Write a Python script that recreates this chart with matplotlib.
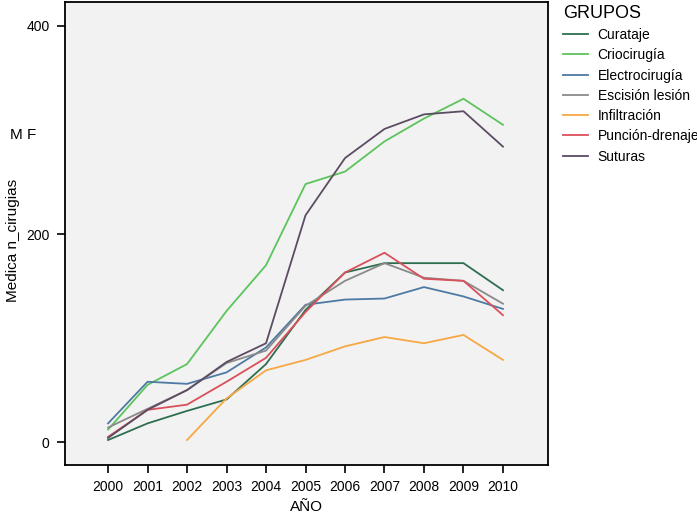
import matplotlib
matplotlib.use("Agg")
import matplotlib.pyplot as plt
import numpy as np

plt.rcParams['font.family'] = ['Liberation Sans', 'DejaVu Sans']

years = [2000, 2001, 2002, 2003, 2004, 2005, 2006, 2007, 2008, 2009, 2010]

curataje = [2, 18, 30, 41, 75, 127, 163, 172, 172, 172, 146]
criocirugia = [12, 55, 75, 126, 170, 248, 260, 289, 311, 330, 305]
electrocirugia = [18, 58, 56, 67, 91, 132, 137, 138, 149, 140, 128]
escision = [14, 32, 50, 76, 88, 131, 155, 172, 158, 155, 133]
infiltracion_years = [2002, 2003, 2004, 2005, 2006, 2007, 2008, 2009, 2010]
infiltracion = [2, 42, 69, 79, 92, 101, 95, 103, 79]
puncion = [5, 31, 36, 58, 81, 125, 163, 182, 157, 155, 122]
suturas = [4, 31, 50, 77, 95, 218, 273, 301, 315, 318, 284]

series = [
    ("Curataje", years, curataje, "#2e6e50"),
    ("Criocirugía", years, criocirugia, "#5cc45c"),
    ("Electrocirugía", years, electrocirugia, "#4d7aa3"),
    ("Escisión lesión", years, escision, "#8a8a8a"),
    ("Infiltración", infiltracion_years, infiltracion, "#f5a843"),
    ("Punción-drenaje", years, puncion, "#d9505b"),
    ("Suturas", years, suturas, "#5c4c62"),
]

fig = plt.figure(figsize=(6.97, 5.16), dpi=100)
ax = fig.add_axes([65/697, 51/516, (548-65)/697, (465-2)/516])
ax.set_facecolor("#f2f2f2")

for name, xs, ys, c in series:
    ax.plot(xs, ys, color=c, lw=1.3, label=name)

ax.set_xlim(1998.91, 2011.14)
ax.set_ylim(-22, 423)
ax.set_xticks(years)
ax.set_xticklabels([str(y) for y in years], fontsize=10)
ax.set_yticks([0, 200, 400])
ax.set_yticklabels(["0", "200", "400"], fontsize=10)
ax.tick_params(direction="out", length=6, width=1.2, color="black", pad=5)
for s in ax.spines.values():
    s.set_linewidth(1.3)
    s.set_color("black")

ax.set_xlabel("AÑO", fontsize=11, labelpad=4)
fig.text(6/697, 1 - 240/516, "Medica n_cirugias", rotation=90, fontsize=11,
         ha="left", va="center")
fig.text(10/697, 1 - 135/516, "M F", fontsize=11, ha="left", va="center")

leg = fig.legend(loc="upper left", bbox_to_anchor=(560/697, 1 - 2/516), frameon=False,
                 title="GRUPOS", fontsize=10, title_fontsize=13,
                 handlelength=1.8, handletextpad=0.7, labelspacing=0.45,
                 borderaxespad=0.0, borderpad=0.2)
leg._legend_box.align = "left"

fig.savefig("out.png", dpi=100)
